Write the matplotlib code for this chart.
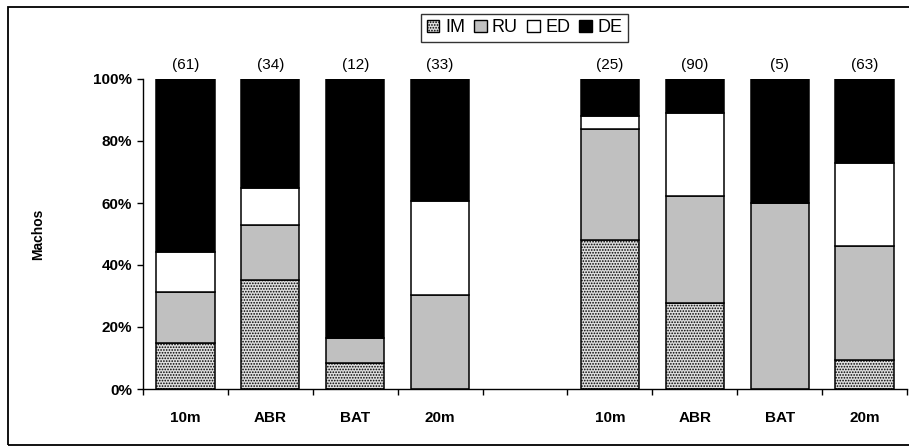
import matplotlib.pyplot as plt
from matplotlib.patches import Rectangle, Patch
from matplotlib.ticker import FixedLocator

plt.rcParams['font.family'] = ['Liberation Sans', 'DejaVu Sans']
plt.rcParams['hatch.linewidth'] = 0.8
plt.rcParams['hatch.color'] = '#9a9a9a'

# --- data (percent of males per class) ---
categories = ['10m', 'ABR', 'BAT', '20m', '10m', 'ABR', 'BAT', '20m']
counts = ['(61)', '(34)', '(12)', '(33)', '(25)', '(90)', '(5)', '(63)']
slots = [0, 1, 2, 3, 5, 6, 7, 8]   # slot 4 left empty as a gap

im = [14.8, 35.3, 8.3, 0.0, 48.0, 27.8, 0.0, 9.5]
ru = [16.4, 17.6, 8.3, 30.3, 36.0, 34.4, 60.0, 36.5]
ed = [13.1, 11.8, 0.0, 30.3, 4.0, 26.7, 0.0, 27.0]
de = [55.7, 35.3, 83.3, 39.4, 12.0, 11.1, 40.0, 27.0]

series_names = ['IM', 'RU', 'ED', 'DE']

fig = plt.figure(figsize=(9.09, 4.48), dpi=100)
ax = fig.add_axes([143 / 909, 59 / 448, 764 / 909, 310 / 448])

width = 0.685
bottom = [0.0] * len(slots)
styles = [
    dict(facecolor='#dedede', hatch='......'),
    dict(facecolor='#c0c0c0'),
    dict(facecolor='white'),
    dict(facecolor='black'),
]
for vals, st in zip([im, ru, ed, de], styles):
    ax.bar(slots, vals, width, bottom=bottom, linewidth=1.1, zorder=2,
           edgecolor='black', **st)
    bottom = [b + v for b, v in zip(bottom, vals)]

# sample sizes above bars
for x, c in zip(slots, counts):
    ax.annotate(c, (x, 100), xytext=(0, 10), textcoords='offset points',
                ha='center', va='center', fontsize=11, annotation_clip=False)

ax.set_xlim(-0.5, 8.5)
ax.set_ylim(0, 100)
ax.set_yticks([0, 20, 40, 60, 80, 100])
ax.set_yticklabels(['0%', '20%', '40%', '60%', '80%', '100%'],
                   fontsize=11, fontweight='bold')
ax.set_xticks(slots)
ax.set_xticklabels(categories, fontsize=11, fontweight='bold')
ax.xaxis.set_minor_locator(FixedLocator([i - 0.5 for i in range(10)]))
ax.tick_params(axis='x', which='major', length=0, pad=16)
ax.tick_params(axis='x', which='minor', length=4, width=1, direction='out')
ax.tick_params(axis='y', length=4, width=1, direction='out', pad=4)
for s in ['top', 'right']:
    ax.spines[s].set_visible(False)
for s in ['left', 'bottom']:
    ax.spines[s].set_linewidth(1.0)

fig.text(38 / 909, 1 - 234 / 448, 'Machos', rotation=90, ha='center',
         va='center', fontsize=10, fontweight='bold')

# legend
handles = [Patch(facecolor='#dedede', hatch='......', edgecolor='black'),
           Patch(facecolor='#c0c0c0', edgecolor='black'),
           Patch(facecolor='white', edgecolor='black'),
           Patch(facecolor='black', edgecolor='black')]
leg = fig.legend(handles, series_names, loc='center', ncol=4,
                 bbox_to_anchor=(524.5 / 909, 1 - 28 / 448), fontsize=13,
                 frameon=True, fancybox=False, edgecolor='black',
                 handlelength=0.7, handleheight=0.7, handletextpad=0.3,
                 columnspacing=0.5, borderpad=0.3, borderaxespad=0)
leg.get_frame().set_linewidth(1.0)

# outer chart border
fig.patches.append(Rectangle((8 / 909, 3 / 448), 1.05, 1 - 10 / 448,
                             transform=fig.transFigure, fill=False,
                             edgecolor='black', linewidth=1.3))

fig.savefig('out.png', dpi=100)
